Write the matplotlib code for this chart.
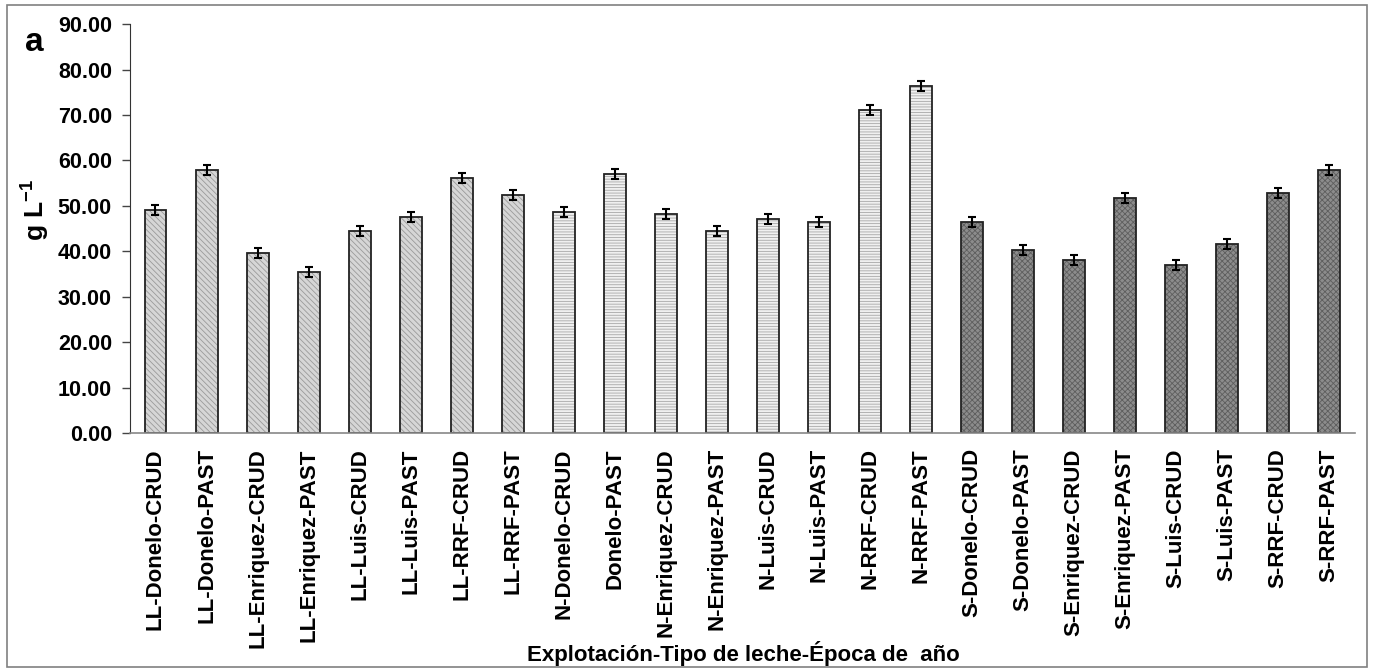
import numpy as np
import matplotlib
matplotlib.use("Agg")
import matplotlib.pyplot as plt
from matplotlib.patches import Rectangle

plt.rcParams['font.family'] = ['Liberation Sans', 'DejaVu Sans']
plt.rcParams['font.weight'] = 'bold'
plt.rcParams['mathtext.fontset'] = 'custom'
plt.rcParams['mathtext.bf'] = 'Liberation Sans:bold'
plt.rcParams['mathtext.rm'] = 'Liberation Sans:bold'
plt.rcParams['hatch.linewidth'] = 0.6

etiquetas = ['LL-Donelo-CRUD', 'LL-Donelo-PAST', 'LL-Enriquez-CRUD', 'LL-Enriquez-PAST',
             'LL-Luis-CRUD', 'LL-Luis-PAST', 'LL-RRF-CRUD', 'LL-RRF-PAST',
             'N-Donelo-CRUD', 'Donelo-PAST', 'N-Enriquez-CRUD', 'N-Enriquez-PAST',
             'N-Luis-CRUD', 'N-Luis-PAST', 'N-RRF-CRUD', 'N-RRF-PAST',
             'S-Donelo-CRUD', 'S-Donelo-PAST', 'S-Enriquez-CRUD', 'S-Enriquez-PAST',
             'S-Luis-CRUD', 'S-Luis-PAST', 'S-RRF-CRUD', 'S-RRF-PAST']
valores = [49.2, 58.0, 39.7, 35.5, 44.4, 47.5, 56.1, 52.5,
           48.7, 57.1, 48.3, 44.4, 47.1, 46.4, 71.2, 76.3,
           46.4, 40.3, 38.1, 51.8, 37.0, 41.5, 52.8, 57.8]
errores = [1.1] * 24
grupo = ['LL'] * 8 + ['N'] * 8 + ['S'] * 8

# relleno por zona: LL rayado diagonal, N rayado horizontal, S trama oscura
estilos = {
    'LL': dict(fc='#d6d6d6', hatch='\\\\\\\\\\\\', hc='#9a9a9a'),
    'N': dict(fc='#f0f0f0', hatch='------', hc='#a8a8a8'),
    'S': dict(fc='#8c8c8c', hatch='xxxxxx', hc='#5e5e5e'),
}

fig = plt.figure(figsize=(13.74, 6.72), dpi=100)
ax = fig.add_axes([0.0946, 0.3557, 0.8914, 0.6083])

x = np.arange(len(valores))
for i in x:
    e = estilos[grupo[i]]
    b = ax.bar(i, valores[i], width=0.43, facecolor=e['fc'], edgecolor='#222222',
               linewidth=1.3, hatch=e['hatch'], zorder=2)
    b[0]._hatch_color = matplotlib.colors.to_rgba(e['hc'])
ax.errorbar(x, valores, yerr=errores, fmt='none', ecolor='black', elinewidth=1.5,
            capsize=3, capthick=1.5, zorder=3)

ax.set_xlim(-0.5, len(valores) - 0.5)
ax.set_ylim(0, 90)
ax.set_yticks(np.arange(0, 91, 10))
ax.set_yticklabels([f'{v:.2f}' for v in np.arange(0, 91, 10)], fontsize=15.5, fontweight='bold')
ax.set_xticks(x)
ax.set_xticklabels(etiquetas, rotation=90, fontsize=16, fontweight='bold')
ax.tick_params(axis='x', length=0, pad=11)
ax.tick_params(axis='y', length=6, width=1, pad=7, color='#444444')

for s in ['top', 'right']:
    ax.spines[s].set_visible(False)
ax.spines['left'].set_color('#333333')
ax.spines['bottom'].set_color('#888888')
ax.spines['bottom'].set_linewidth(1.2)

fig.text(0.025, 0.6875, r'g L$^{\mathbf{-1}}$', rotation=90, fontsize=19, fontweight='bold',
         ha='center', va='center')
fig.text(0.025, 0.937, 'a', fontsize=24, fontweight='bold', ha='center', va='center')
fig.text(0.541, 0.027, 'Explotación-Tipo de leche-Época de  año', fontsize=16,
         fontweight='bold', ha='center', va='center')

fig.patches.append(Rectangle((0.005, 0.007), 0.99, 0.985, transform=fig.transFigure,
                             fill=False, edgecolor='#808080', linewidth=1.2))

fig.savefig('out.png', dpi=100)
